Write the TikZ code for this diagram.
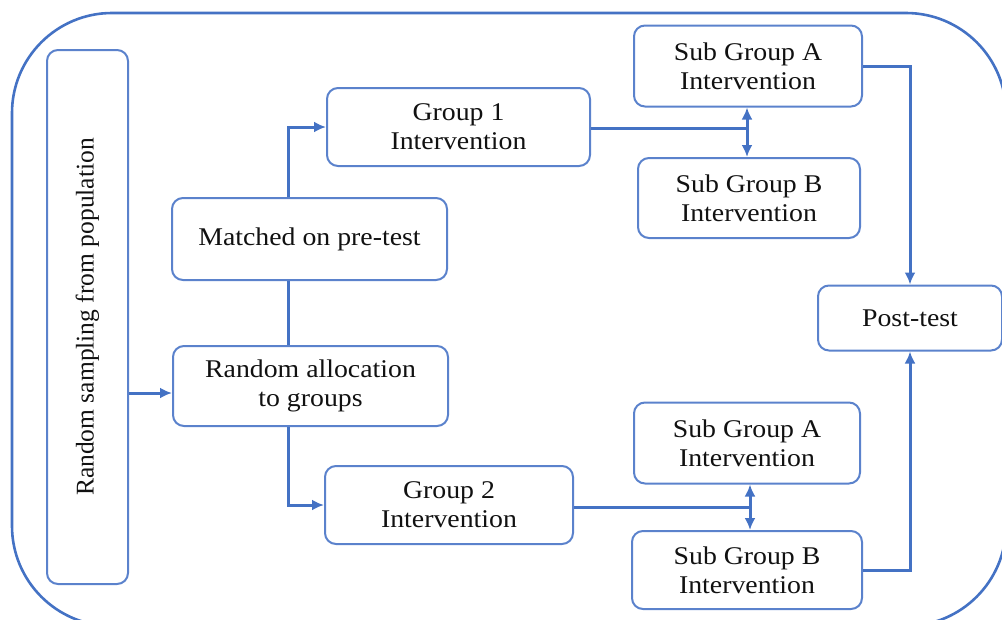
\documentclass[tikz,border=0pt]{standalone}
\usepackage{fontspec}
\setmainfont[FakeStretch=1.09]{Liberation Serif}
\newfontfamily\rotfont{Liberation Serif}
\usetikzlibrary{arrows.meta}
\definecolor{lblue}{HTML}{4472C4}
\definecolor{bblue}{HTML}{5B82CC}
\definecolor{txt}{HTML}{111111}
\tikzset{
  box/.style={draw=bblue, line width=2pt, rounded corners=11pt, align=center,
    inner sep=0pt, text=txt, font=\fontsize{25.5}{29}\selectfont},
  conn/.style={draw=lblue, line width=3pt},
  arr/.style={conn, -{Latex[length=12pt,width=11pt]}},
  darr/.style={conn, {Latex[length=12pt,width=11pt]}-{Latex[length=12pt,width=11pt]}},
  outer/.style={draw=lblue, line width=2.6pt, rounded corners=100pt}
}
\begin{document}
\begin{tikzpicture}[x=1pt,y=-1pt]
\useasboundingbox (0,0) rectangle (1002,619);
\clip (0,0) rectangle (1002,619);
\draw[outer] (12,13) rectangle (1006,626);

\node[box, minimum width=81pt, minimum height=534pt] (samp) at (87.5,317)
  {\rotatebox{90}{\rotfont\fontsize{25.5}{29}\selectfont Random sampling from population}};
\node[box, minimum width=275pt, minimum height=82pt] (match) at (309.5,239) {Matched on pre-test};
\node[box, minimum width=275pt, minimum height=80pt] (alloc) at (310.5,386) {Random allocation\\to groups};
\node[box, minimum width=263pt, minimum height=78pt] (g1) at (458.5,127) {Group 1\\Intervention};
\node[box, minimum width=248pt, minimum height=78pt] (g2) at (449,505) {Group 2\\Intervention};
\node[box, minimum width=228pt, minimum height=81pt] (sa1) at (748,66) {Sub Group A\\Intervention};
\node[box, minimum width=222pt, minimum height=80pt] (sb1) at (749,198) {Sub Group B\\Intervention};
\node[box, minimum width=226pt, minimum height=81pt] (sa2) at (747,443) {Sub Group A\\Intervention};
\node[box, minimum width=230pt, minimum height=78pt] (sb2) at (747,570) {Sub Group B\\Intervention};
\node[box, minimum width=184pt, minimum height=65pt] (post) at (910,318) {Post-test};

\coordinate (j1) at (747,128);
\coordinate (j2) at (750,507);

\draw[arr] (samp.east |- 0,393) -- (alloc.west |- 0,393);
\draw[arr] (match.north -| 288,0) |- (g1.west);
\draw[conn] (match.south -| 288,0) -- (alloc.north -| 288,0);
\draw[arr] (alloc.south -| 288,0) |- (g2.west);
\draw[conn] (g1.east |- j1) -- (j1);
\draw[darr] (sa1.south -| j1) -- (sb1.north -| j1);
\draw[conn] (g2.east |- j2) -- (j2);
\draw[darr] (sa2.south -| j2) -- (sb2.north -| j2);
\draw[arr] (sa1.east) -| (post.north);
\draw[arr] (sb2.east) -| (post.south);
\end{tikzpicture}
\end{document}
